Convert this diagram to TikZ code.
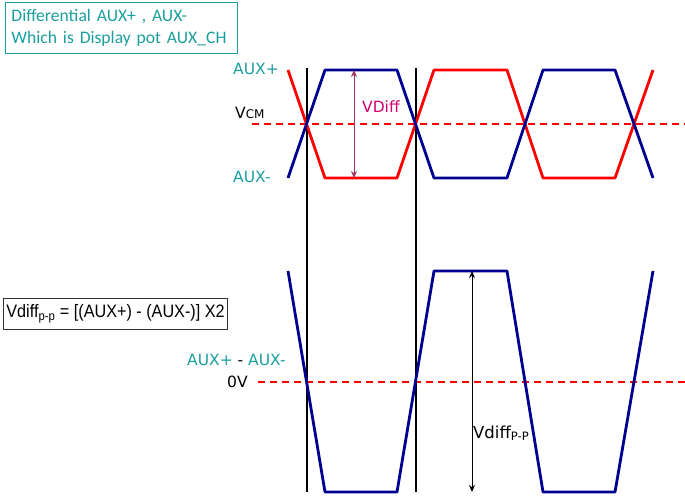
\documentclass[tikz,border=0pt]{standalone}
\usepackage{fontspec}
\usetikzlibrary{arrows.meta}
\setmainfont{DejaVu Sans}
\newfontfamily\boxfont{Carlito}
\newfontfamily\narrowfont[FakeStretch=0.9]{Liberation Sans}
\definecolor{auxteal}{HTML}{1A9E9E}
\definecolor{auxblue}{HTML}{000090}
\definecolor{vdiffpink}{HTML}{D0006F}
\definecolor{arrowplum}{HTML}{993366}
\tikzset{
	wave/.style={line width=2.8pt, line join=round},
	level/.style={red, line width=1.3pt, dash pattern=on 7pt off 5pt},
	marker/.style={black, line width=1.6pt},
	lbl/.style={font=\fontsize{15.5}{18}\selectfont, inner sep=0pt, anchor=base west},
}
\begin{document}
\begin{tikzpicture}[x=1pt, y=-1pt, line cap=butt, >={Stealth[length=7pt,width=6pt]}]
			\def\ytop{70} \def\ybot{178} \def\ymid{124}
			\def\dtop{271} \def\dbot{492} \def\dmid{382}
			\useasboundingbox (0,0) rectangle (685,497);
			
			% sampling instants
			\foreach \x in {307,416}
			\draw[marker] (\x,68)--(\x,492);
			
			% common mode and zero levels
			\draw[level] (252,\ymid)--(685,\ymid);
			\draw[level] (258,\dmid)--(685,\dmid);
			
			% AUX+ and AUX-
			\draw[wave,red] (288,\ytop)--(325,\ybot)--(397,\ybot)--(434,\ytop)
			--(507,\ytop)--(543,\ybot)--(615,\ybot)--(653,\ytop);
			\draw[wave,auxblue] (288,\ybot)--(325,\ytop)--(397,\ytop)--(434,\ybot)
			--(507,\ybot)--(543,\ytop)--(615,\ytop)--(653,\ybot);
			
			% AUX+ - AUX-
			\draw[wave,auxblue] (288,\dtop)--(325,\dbot)--(397,\dbot)--(434,\dtop)
			--(507,\dtop)--(543,\dbot)--(615,\dbot)--(653,\dtop);
			
			\coordinate (vdt) at (354,\ytop);
			\coordinate (vdb) at (354,\ybot);
			\draw[<->,arrowplum,line width=1pt] (vdt)--(vdb);
			\coordinate (vpt) at (472,\dtop);
			\coordinate (vpb) at (472,\dbot);
			\draw[<->,line width=.8pt] (vpt)--(vpb);
			
			\node[draw=auxteal, line width=1pt, anchor=north west, minimum width=232pt, minimum height=51pt,
			text width=220pt, align=left, inner xsep=6pt, text=auxteal,
			font=\boxfont\fontsize{17.6}{22}\selectfont] (title) at (5,2)
			{Differential AUX+ , AUX-\\Which is Display pot AUX\_CH};
			\node[draw=black!80, line width=.8pt, anchor=north west, minimum width=223pt, minimum height=31pt,
			inner xsep=3pt, font=\narrowfont\fontsize{18}{20}\selectfont] (formula) at (3,298)
			{Vdiff\textsubscript{p-p} = [(AUX+) - (AUX-)] X2};
			
			\node[lbl,auxteal] (auxp) at (233,75) {AUX+};
			\node[lbl] (vcm) at (235,119) {V{\fontsize{12}{14}\selectfont CM}};
			\node[lbl,auxteal] (auxm) at (233,183) {AUX-};
			\node[lbl,vdiffpink] (vdiff) at (362,113) {VDiff};
			\node[lbl] (diff) at (187,365) {\textcolor{auxteal}{AUX+} - \textcolor{auxteal}{AUX-}};
			\node[lbl] (zero) at (227,387) {0V};
			\node[lbl,font=\fontsize{16.5}{18}\selectfont] (vpp) at (473,438) {Vdiff\textsubscript{P-P}};
		\end{tikzpicture}
\end{document}
